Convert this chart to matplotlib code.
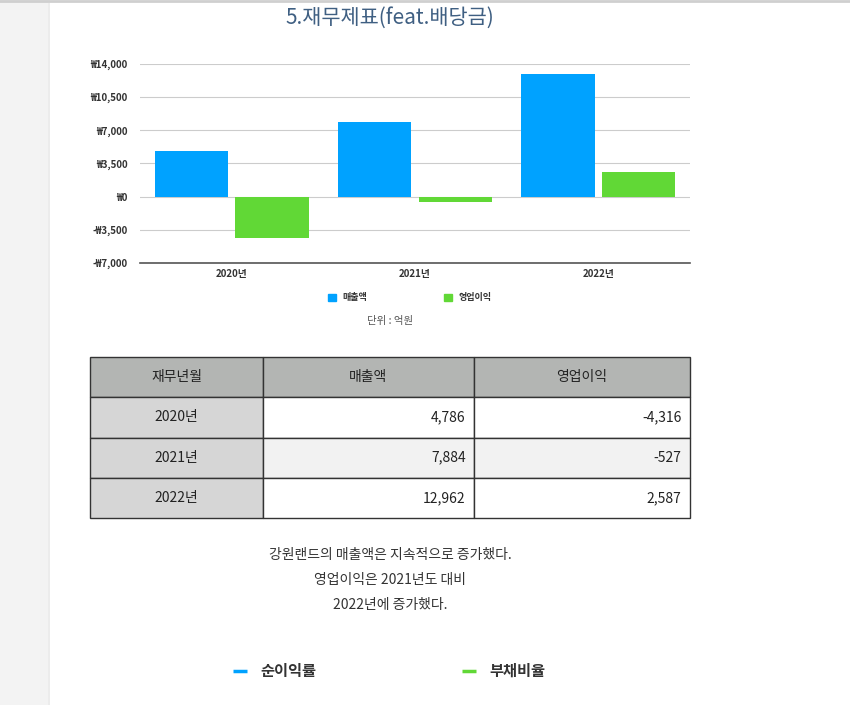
import matplotlib.pyplot as plt
import matplotlib.patches as mpatches
from matplotlib.ticker import FuncFormatter
import numpy as np

plt.rcParams['font.family'] = ['Noto Sans CJK KR', 'DejaVu Sans']

years = ["2020년", "2021년", "2022년"]
revenue = [4786, 7884, 12962]
op_profit = [-4316, -527, 2587]
yticks = [-7000, -3500, 0, 3500, 7000, 10500, 14000]

title = "5.재무제표(feat.배당금)"
unit_note = "단위 : 억원"
table_header = ["재무년월", "매출액", "영업이익"]
summary = ["강원랜드의 매출액은 지속적으로 증가했다.",
           "영업이익은 2021년도 대비",
           "2022년에 증가했다."]
next_legend = ["순이익률", "부채비율"]

BLUE = "#00a2ff"
GREEN = "#61d836"
W, H = 850, 705


def px(x, y, w, h):
    # pixel box (top-left origin) -> figure fraction
    return [x / W, 1 - (y + h) / H, w / W, h / H]


fig = plt.figure(figsize=(8.5, 7.05), dpi=100)
fig.patch.set_facecolor("white")

# background strip on the left + top rule
bg = fig.add_axes([0, 0, 1, 1], zorder=-5)
bg.set_xlim(0, W)
bg.set_ylim(H, 0)
bg.axis("off")
bg.add_patch(mpatches.Rectangle((0, 0), 48, H, color="#f3f3f3", lw=0))
bg.add_patch(mpatches.Rectangle((48, 0), 2, H, color="#ececec", lw=0))
bg.plot([0, W], [1, 1], color="#cfcfcf", lw=2)

fig.text(390 / W, 1 - 18 / H, title, ha="center", va="center",
         fontsize=15, color="#3f5f82")

# bar chart
ax = fig.add_axes(px(140, 64, 550, 199))
x = np.arange(len(years))
bw = 0.40
ax.bar(x - 0.22, revenue, bw, color=BLUE, zorder=3, label="매출액")
ax.bar(x + 0.22, op_profit, bw, color=GREEN, zorder=3, label="영업이익")
ax.set_xlim(-0.5, 2.5)
ax.set_ylim(-7000, 14000)
ax.set_yticks(yticks)
ax.yaxis.set_major_formatter(FuncFormatter(
    lambda v, p: ("-₩{:,}".format(int(-v)) if v < 0 else "₩{:,}".format(int(v)))))
ax.set_xticks(x)
ax.set_xticklabels(years)
ax.tick_params(length=0, labelsize=7, colors="#333333")
ax.tick_params(axis="y", pad=9)
ax.tick_params(axis="x", pad=4)
for lab in ax.get_yticklabels() + ax.get_xticklabels():
    lab.set_fontweight("bold")
ax.grid(axis="y", color="#cccccc", lw=0.8, zorder=0)
for s in ["top", "right", "left"]:
    ax.spines[s].set_visible(False)
ax.spines["bottom"].set_color("#555555")
ax.spines["bottom"].set_linewidth(1.2)

leg = fig.legend(handles=[mpatches.Patch(color=BLUE, label="매출액"),
                          mpatches.Patch(color=GREEN, label="영업이익")],
                 loc="center", bbox_to_anchor=(410 / W, 1 - 298 / H), ncol=2,
                 frameon=False, fontsize=6.5, handlelength=0.9, handleheight=0.9,
                 columnspacing=8.5, handletextpad=0.7)
for t in leg.get_texts():
    t.set_fontweight("bold")
    t.set_color("#333333")

fig.text(390 / W, 1 - 321 / H, unit_note, ha="center", va="center",
         fontsize=7.5, color="#555555")

# data table
tax = fig.add_axes(px(90, 357, 600, 161))
tax.axis("off")
rows = [[y, f"{r:,}", f"{o:,}"] for y, r, o in zip(years, revenue, op_profit)]
tbl = tax.table(cellText=rows, colLabels=table_header, bbox=[0, 0, 1, 1],
                colWidths=[173 / 600, 211 / 600, 216 / 600])
tbl.auto_set_font_size(False)
for (r, c), cell in tbl.get_celld().items():
    cell.set_edgecolor("#333333")
    cell.set_linewidth(1.0)
    cell.get_text().set_fontsize(10)
    cell.get_text().set_color("#222222")
    if r == 0:
        cell.set_facecolor("#b3b5b3")
        cell.get_text().set_ha("center")
    elif c == 0:
        cell.set_facecolor("#d6d6d6")
        cell.get_text().set_ha("center")
    else:
        cell.set_facecolor("#f2f2f2" if r == 2 else "white")
        cell.get_text().set_ha("right")
        cell.PAD = 0.04

for i, line in enumerate(summary):
    fig.text(390 / W, 1 - (555 + 25 * i) / H, line, ha="center", va="center",
             fontsize=10, color="#333333")

# second chart legend (chart itself cut off)
for lx, name, col in zip([233, 462], next_legend, [BLUE, GREEN]):
    bg.plot([lx, lx + 14], [671, 671], color=col, lw=2.5, solid_capstyle="butt")
    bg.text(lx + 27, 671, name, ha="left", va="center", fontsize=11,
            fontweight="bold", color="#333333")

fig.savefig("out.png", dpi=100)
